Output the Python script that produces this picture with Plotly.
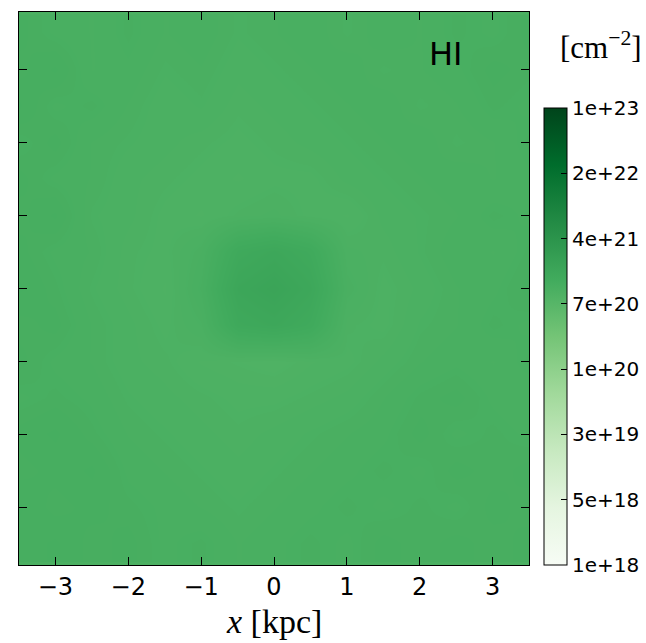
import numpy as np
import plotly.graph_objects as go

# Map grid: cell centres in kpc (rows listed from top to bottom)
x_kpc = [-3.5, -3.0, -2.5, -2.0, -1.5, -1.0, -0.5, 0.0, 0.5, 1.0, 1.5, 2.0, 2.5, 3.0, 3.5]
y_kpc = [3.5, 3.0, 2.5, 2.0, 1.5, 1.0, 0.5, 0.0, -0.5, -1.0, -1.5, -2.0, -2.5, -3.0, -3.5]

# log10 of the HI column density [cm^-2]
log_nhi_rows = [
    [21.05, 21.03, 21.02, 21.04, 21.02, 21.03, 21.01, 21.02, 21.03, 21.01, 21.03, 21.02, 21.04, 21.03, 21.05],
    [21.04, 21.06, 21.02, 21.03, 21.01, 21.02, 21.00, 21.01, 21.02, 21.03, 21.01, 21.02, 21.03, 21.05, 21.04],
    [21.06, 21.03, 21.04, 21.02, 21.00, 21.01, 20.99, 21.00, 21.01, 21.02, 21.03, 21.01, 21.02, 21.04, 21.03],
    [21.03, 21.05, 21.02, 21.01, 21.00, 20.99, 20.98, 20.99, 21.00, 21.01, 21.02, 21.03, 21.01, 21.02, 21.04],
    [21.05, 21.03, 21.02, 21.00, 20.99, 20.98, 20.97, 20.98, 20.98, 21.00, 21.01, 21.02, 21.03, 21.02, 21.03],
    [21.04, 21.06, 21.01, 21.00, 20.98, 20.97, 20.99, 21.00, 20.98, 20.97, 21.00, 21.01, 21.02, 21.04, 21.03],
    [21.05, 21.03, 21.02, 20.99, 20.98, 21.02, 21.16, 21.20, 21.15, 21.00, 20.99, 21.01, 21.03, 21.02, 21.04],
    [21.06, 21.04, 21.01, 20.99, 20.97, 21.04, 21.22, 21.26, 21.20, 21.02, 20.98, 21.00, 21.02, 21.03, 21.05],
    [21.04, 21.05, 21.02, 21.00, 20.98, 21.01, 21.17, 21.20, 21.15, 20.99, 20.98, 21.01, 21.02, 21.04, 21.03],
    [21.05, 21.03, 21.02, 21.00, 20.99, 20.97, 20.96, 20.95, 20.97, 20.98, 21.00, 21.02, 21.03, 21.02, 21.04],
    [21.03, 21.04, 21.03, 21.01, 21.00, 20.99, 20.98, 20.98, 20.99, 21.00, 21.02, 21.04, 21.05, 21.03, 21.02],
    [21.05, 21.06, 21.04, 21.02, 21.01, 21.00, 20.99, 21.00, 21.01, 21.02, 21.03, 21.05, 21.03, 21.04, 21.03],
    [21.04, 21.05, 21.06, 21.03, 21.02, 21.01, 21.00, 21.01, 21.02, 21.03, 21.04, 21.03, 21.05, 21.04, 21.05],
    [21.06, 21.04, 21.05, 21.04, 21.03, 21.02, 21.01, 21.02, 21.03, 21.04, 21.03, 21.04, 21.03, 21.05, 21.04],
    [21.05, 21.06, 21.04, 21.05, 21.03, 21.04, 21.02, 21.03, 21.04, 21.03, 21.05, 21.04, 21.05, 21.04, 21.05],
]

x_ticks = [-3, -2, -1, 0, 1, 2, 3]
y_ticks = [-3, -2, -1, 0, 1, 2, 3]
cbar_labels = ["1e+18", "5e+18", "3e+19", "1e+20", "7e+20", "4e+21", "2e+22", "1e+23"]
log_min, log_max = 18.0, 23.0

GREENS = [
    [0.0, "#f7fcf5"], [0.125, "#e5f5e0"], [0.25, "#c7e9c0"],
    [0.375, "#a1d99b"], [0.5, "#74c476"], [0.625, "#41ab5d"],
    [0.75, "#238b45"], [0.875, "#006d2c"], [1.0, "#00441b"],
]

# plotly wants rows ordered by increasing y
z = np.array(log_nhi_rows)[::-1]
y_asc = y_kpc[::-1]

W, H = 646, 643
L, R, T, B = 19, 117, 12, 78
plot_w = W - L - R
plot_h = H - T - B

fig = go.Figure(go.Heatmap(
    x=x_kpc, y=y_asc, z=z,
    zmin=log_min, zmax=log_max, zsmooth="best",
    colorscale=GREENS, hoverinfo="skip",
    colorbar=dict(
        x=(544 - L) / plot_w, xanchor="left", xpad=0,
        y=0, yanchor="bottom", ypad=0,
        lenmode="pixels", len=457, thickness=23,
        outlinewidth=1, outlinecolor="black",
        tickvals=list(np.linspace(log_min, log_max, len(cbar_labels))),
        ticktext=cbar_labels,
        ticks="inside", ticklen=6, tickwidth=1, tickcolor="black",
        tickfont=dict(family="DejaVu Sans", size=20, color="black"),
    ),
))

axis_common = dict(
    showgrid=False, zeroline=False,
    showline=True, linecolor="black", linewidth=1, mirror="ticks",
    ticks="inside", ticklen=8, tickwidth=1, tickcolor="black",
)

fig.update_layout(
    width=W, height=H, autosize=False,
    margin=dict(l=L, r=R, t=T, b=B, autoexpand=False),
    paper_bgcolor="white", plot_bgcolor="#4bb062",
    xaxis=dict(range=[-3.5, 3.5], tickvals=x_ticks,
               tickfont=dict(family="DejaVu Sans", size=24, color="black"),
               **axis_common),
    yaxis=dict(range=[-3.79, 3.79], tickvals=y_ticks, showticklabels=False,
               **axis_common),
    annotations=[
        dict(text="HI", xref="paper", yref="paper",
             x=(446 - L) / plot_w, y=(H - B - 54) / plot_h,
             xanchor="center", yanchor="middle", showarrow=False,
             font=dict(family="DejaVu Sans", size=32, color="black")),
        dict(text="[cm<sup>−2</sup>]", xref="paper", yref="paper",
             x=(601 - L) / plot_w, y=(H - B - 46) / plot_h,
             xanchor="center", yanchor="middle", showarrow=False,
             font=dict(family="Liberation Serif", size=31, color="black")),
        dict(text="<i>x</i> [kpc]", xref="paper", yref="paper",
             x=(274 - L) / plot_w, y=(H - B - 621) / plot_h,
             xanchor="center", yanchor="middle", showarrow=False,
             font=dict(family="Liberation Serif", size=34, color="black")),
    ],
)

fig.write_html("out.html")
